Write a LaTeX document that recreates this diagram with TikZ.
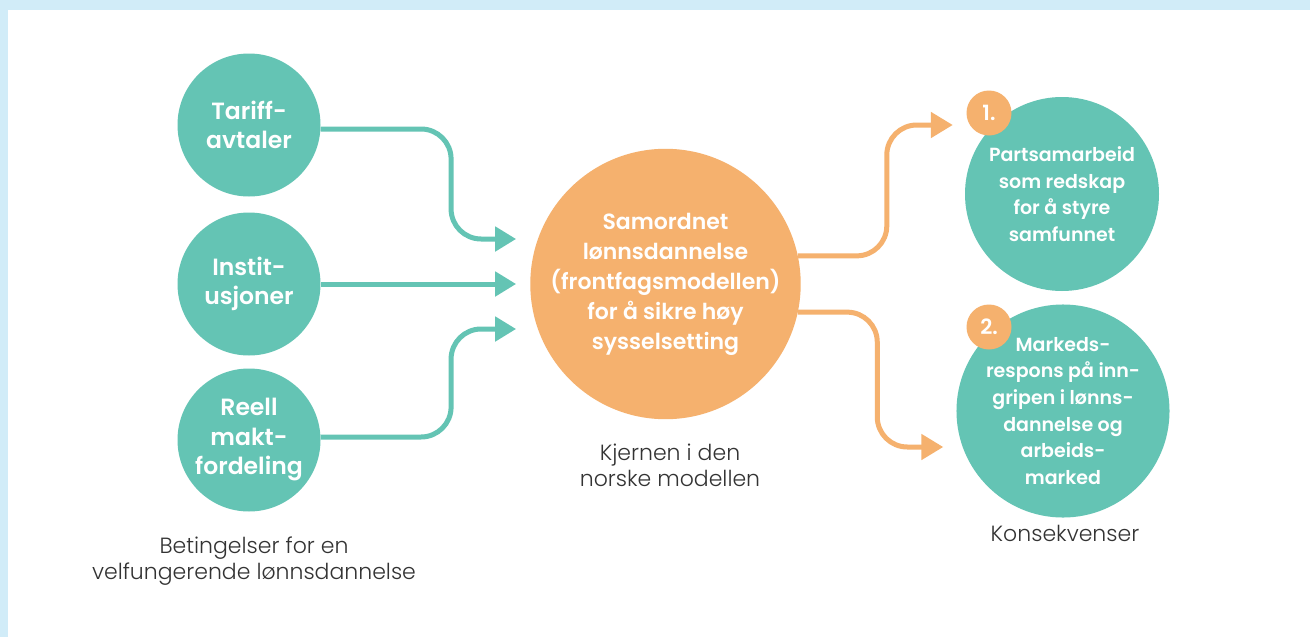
\documentclass[tikz,border=0pt]{standalone}
\usepackage{fontspec}
\setmainfont{Poppins}[BoldFont={Poppins SemiBold}]
\newfontfamily\lightfont{Poppins Light}
\usetikzlibrary{positioning}
\usetikzlibrary{arrows.meta}
\usetikzlibrary{calc}

\definecolor{tgreen}{HTML}{64C4B4}
\definecolor{torange}{HTML}{F5B16E}
\definecolor{framebl}{HTML}{D1ECF8}
\definecolor{txtgray}{HTML}{333333}

\begin{document}
\begin{tikzpicture}[
x=1pt, y=1pt,
inarr/.style={draw=tgreen, line width=5pt, rounded corners=30pt, -{Triangle[length=21pt,width=24pt]}},
outarr/.style={draw=torange, line width=5pt, rounded corners=30pt, -{Triangle[length=22pt,width=25pt]}}
]

\tikzstyle{c} = [circle, fill=tgreen, text=white, minimum size=143pt, inner sep=0pt, align=center, font=\fontsize{23.5}{29.5}\selectfont\bfseries]
\tikzstyle{mc} = [circle, fill=torange, text=white, minimum size=264pt, inner sep=0pt, align=center, font=\fontsize{22}{30}\selectfont\bfseries]
\tikzstyle{rc} = [circle, fill=tgreen, text=white, minimum size=194pt, inner sep=0pt, align=center, font=\fontsize{19}{26.7}\selectfont\bfseries]
\tikzstyle{nb} = [circle, fill=torange, text=white, minimum size=45pt, inner sep=0pt, font=\fontsize{21}{24}\selectfont\bfseries]
\tikzstyle{lab} = [align=center, text=txtgray, font=\fontsize{22}{26}\selectfont\lightfont]

% frame
\fill[framebl] (0,0) rectangle (1310,-637);
\fill[white] (8,-10) rectangle (1310,-637);
\useasboundingbox (0,0) rectangle (1310,-637);

% conditions
\node[c] (t0) at (249,-125) {Tariff-\\avtaler};
\node[c] (t1) at (249,-284) {Instit-\\usjoner};
\node[c] (t2) at (249,-440) {Reell\\makt-\\fordeling};

% core
\node[mc] (m) at (665.5,-284) {Samordnet\\lønnsdannelse\\(frontfagsmodellen)\\for å sikre høy\\sysselsetting};

% consequences
\node[rc] (k1) at (1062,-194) {Partsamarbeid\\som redskap\\for å styre\\samfunnet};
\node[rc] (k2) at (1063,-411) {Markeds-\\respons på inn-\\gripen i lønns-\\dannelse og\\arbeids-\\marked};
\node[nb] (b1) at (989,-113) {1.};
\node[nb] (b2) at (989,-327) {2.};

% arrow tips
\coordinate (a0) at ([xshift=-14pt,yshift=45pt]m.west);
\coordinate (a1) at ([xshift=-14pt]m.west);
\coordinate (a2) at ([xshift=-14pt,yshift=-45pt]m.west);
\coordinate (o1) at ([xshift=-12pt,yshift=69pt]k1.west);
\coordinate (o2) at ([xshift=-13pt,yshift=-36pt]k2.west);

\draw[inarr] ([yshift=-4pt]t0.east) -| ([xshift=-65pt]a0) -- (a0);
\draw[inarr] (t1.east) -- (a1);
\draw[inarr] ([yshift=3pt]t2.east) -| ([xshift=-65pt]a2) -- (a2);
\draw[outarr] (m.12) -| ([xshift=-66pt]o1) -- (o1);
\draw[outarr] (m.-12) -| ([xshift=-66pt]o2) -- (o2);

% captions
\node[lab] (l0) at (254,-561) {Betingelser for en\\velfungerende lønnsdannelse};
\node[lab] (l1) at (670,-465) {Kjernen i den\\norske modellen};
\node[lab] (l2) at (1065,-533) {Konsekvenser};
\end{tikzpicture}
\end{document}
